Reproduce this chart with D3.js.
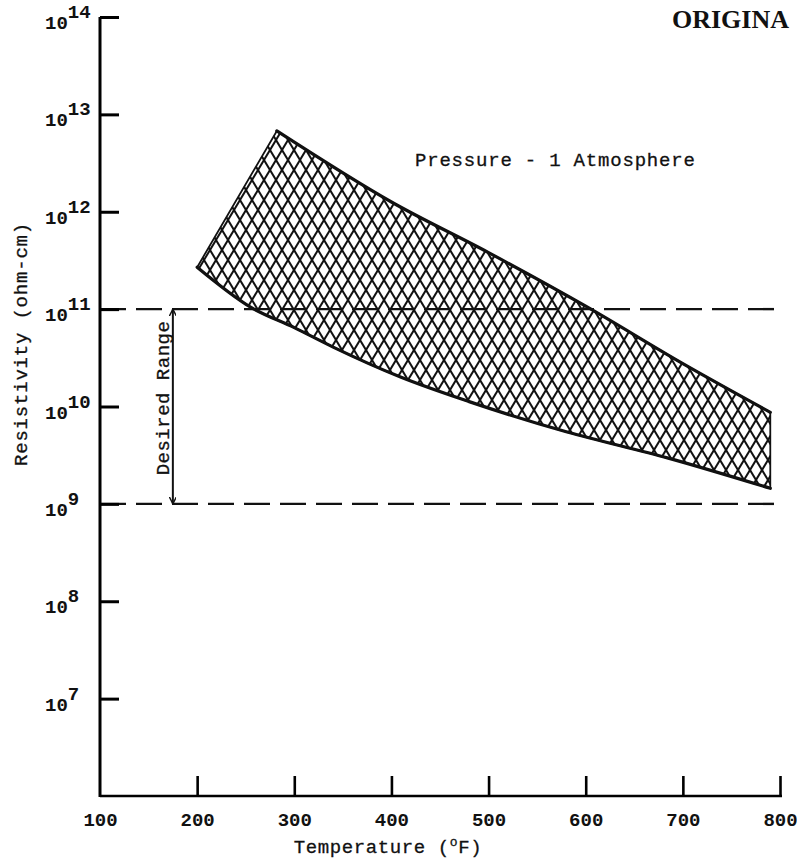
<!DOCTYPE html>
<html>
<head>
<meta charset="utf-8">
<script src="https://cdn.jsdelivr.net/npm/d3@7"></script>
<style>
  body { margin: 0; background: #fff; }
  text { font-family: "Liberation Mono", "DejaVu Sans Mono", monospace; fill: #111; }
</style>
</head>
<body>
<svg id="chart" width="797" height="861"></svg>
<script>
// temperature (°F) and log10 resistivity (ohm-cm) of the band edges
const upperTemp = [282, 400, 500, 600, 700, 790];
const upperLog = [12.83, 12.1, 11.58, 11.03, 10.44, 9.94];
const lowerTemp = [200, 255, 300, 340, 410, 480, 580, 685, 790];
const lowerLog = [11.43, 11.02, 10.81, 10.61, 10.3, 10.05, 9.74, 9.47, 9.16];

// desired range limits
const desiredRange = [1e9, 1e11];

const xTicks = [100, 200, 300, 400, 500, 600, 700, 800];
const yTickExps = [7, 8, 9, 10, 11, 12, 13, 14];

const x = d3.scaleLinear().domain([100, 800]).range([100, 780]);
const y = d3.scaleLog().domain([1e6, 1e14]).range([796, 17]);

const svg = d3.select("#chart");

// cross hatch
const pat = svg
  .append("defs")
  .append("pattern")
  .attr("id", "hatch")
  .attr("patternUnits", "userSpaceOnUse")
  .attr("width", 12)
  .attr("height", 20);
[
  "M-12,-20L24,40", "M0,-20L24,20", "M-12,0L12,40",
  "M24,-20L-12,40", "M12,-20L-12,20", "M24,0L0,40"
].forEach((d) =>
  pat.append("path").attr("d", d).attr("stroke", "#111").attr("stroke-width", 2)
);

const upper = upperTemp.map((t, i) => [x(t), y(Math.pow(10, upperLog[i]))]);
const lower = lowerTemp.map((t, i) => [x(t), y(Math.pow(10, lowerLog[i]))]);

const line = d3.line().curve(d3.curveMonotoneX);

svg
  .append("path")
  .attr("d", line(upper) + "L" + line(lower.slice().reverse()).slice(1) + "Z")
  .attr("fill", "url(#hatch)")
  .attr("stroke", "#111")
  .attr("stroke-width", 1.8);

svg
  .selectAll(".edge")
  .data([upper, lower])
  .enter()
  .append("path")
  .attr("d", line)
  .attr("fill", "none")
  .attr("stroke", "#111")
  .attr("stroke-width", 3.2)
  .attr("stroke-linecap", "round");

// dashed limit lines
svg
  .selectAll(".limit")
  .data(desiredRange)
  .enter()
  .append("line")
  .attr("x1", x(100))
  .attr("x2", x(796))
  .attr("y1", (d) => y(d))
  .attr("y2", (d) => y(d))
  .attr("stroke", "#111")
  .attr("stroke-width", 2.4)
  .attr("stroke-dasharray", "26,10");

// axes
const yAxis = svg
  .append("g")
  .attr("transform", "translate(" + x(100) + ",0)")
  .call(d3.axisLeft(y).tickValues(yTickExps.map((e) => Math.pow(10, e))).tickSize(-19).tickFormat(""));
yAxis.select(".domain").attr("stroke-width", 3).attr("d", "M0," + y(1e14) + "V" + (y(1e6) + 1));
yAxis.selectAll(".tick line").attr("stroke-width", 3);

const xAxis = svg
  .append("g")
  .attr("transform", "translate(0," + y(1e6) + ")")
  .call(d3.axisBottom(x).tickValues(xTicks).tickSize(-20).tickPadding(17));
xAxis.select(".domain").attr("stroke-width", 2.6).attr("d", "M" + x(100) + ",0H" + (x(800) + 2));
xAxis.selectAll(".tick line").attr("stroke-width", 2.6).filter((d) => d === 100).remove();
xAxis
  .selectAll(".tick text")
  .attr("font-size", 19)
  .attr("font-weight", "bold")
  .attr("fill", "#111");

// y tick labels 10^n
const yl = svg
  .selectAll(".ylab")
  .data(yTickExps)
  .enter()
  .append("text")
  .attr("x", 45)
  .attr("y", (d) => y(Math.pow(10, d)) + 12)
  .attr("font-size", 19)
  .attr("font-weight", "bold");
yl.append("tspan").text("10");
yl.append("tspan").attr("dy", -11).text((d) => d);

// axis titles
const xt = svg
  .append("text")
  .attr("x", 388)
  .attr("y", 853)
  .attr("text-anchor", "middle")
  .attr("font-size", 19)
  .attr("letter-spacing", 0.6)
  .attr("stroke", "#111")
  .attr("stroke-width", 0.3);
xt.append("tspan").text("Temperature (");
xt.append("tspan").attr("font-size", 13).attr("dy", -7).text("o");
xt.append("tspan").attr("dy", 7).text("F)");

svg
  .append("text")
  .attr("transform", "translate(27,344) rotate(-90)")
  .attr("text-anchor", "middle")
  .attr("font-size", 19)
  .attr("letter-spacing", 0.8)
  .attr("stroke", "#111")
  .attr("stroke-width", 0.3)
  .text("Resistivity (ohm-cm)");

// desired range arrow
svg
  .append("defs")
  .append("marker")
  .attr("id", "arr")
  .attr("viewBox", "0 0 10 10")
  .attr("refX", 10)
  .attr("refY", 5)
  .attr("markerWidth", 7)
  .attr("markerHeight", 7)
  .attr("markerUnits", "userSpaceOnUse")
  .attr("orient", "auto-start-reverse")
  .append("path")
  .attr("d", "M0,0L10,5L0,10")
  .attr("fill", "none")
  .attr("stroke", "#111")
  .attr("stroke-width", 2);

svg
  .append("line")
  .attr("x1", x(175))
  .attr("x2", x(175))
  .attr("y1", y(desiredRange[1]))
  .attr("y2", y(desiredRange[0]))
  .attr("stroke", "#111")
  .attr("stroke-width", 2)
  .attr("marker-start", "url(#arr)")
  .attr("marker-end", "url(#arr)");

svg
  .append("text")
  .attr("transform", "translate(169,398) rotate(-90)")
  .attr("text-anchor", "middle")
  .attr("font-size", 19)
  .attr("letter-spacing", 0.5)
  .attr("stroke", "#111")
  .attr("stroke-width", 0.3)
  .text("Desired Range");

svg
  .append("text")
  .attr("x", 415)
  .attr("y", 166)
  .attr("font-size", 19)
  .attr("letter-spacing", 0.8)
  .attr("stroke", "#111")
  .attr("stroke-width", 0.3)
  .text("Pressure - 1 Atmosphere");

svg
  .append("text")
  .attr("x", 672)
  .attr("y", 28)
  .style("font-family", "'Liberation Serif', serif")
  .attr("font-weight", "bold")
  .attr("font-size", 26)
  .text("ORIGINA");
</script>
</body>
</html>
